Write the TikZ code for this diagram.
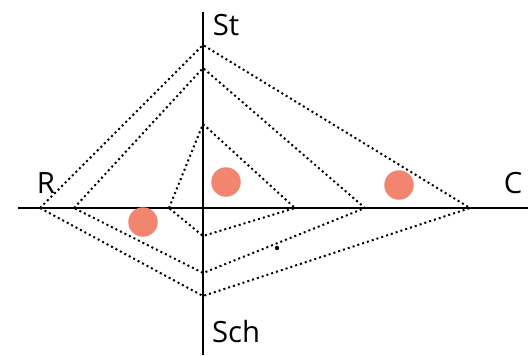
\documentclass[tikz,border=0pt]{standalone}
\usepackage{fontspec}
\setmainfont{Open Sans}
\usepackage{xcolor}
\definecolor{salmon}{RGB}{241,133,111}
\newlength{\pxu}
\setlength{\pxu}{0.03cm}
\tikzset{
  axis/.style={line width=2pt},
  dotline/.style={line width=1.7pt, dash pattern=on 1.7pt off 2.6pt},
  blob/.style={circle, fill=salmon, inner sep=0pt, minimum size=29.5\pxu},
  lbl/.style={font=\fontsize{25}{30}\selectfont, inner sep=0pt}
}
\begin{document}
\begin{tikzpicture}[x=0.03cm, y=-0.03cm]
            \useasboundingbox (0,0) rectangle (528,355);
            % --- Axes ---
            \coordinate (west) at (18,208);
            \coordinate (east) at (528,208);
            \coordinate (north) at (203,12);
            \coordinate (south) at (203,355);
            \draw[axis] (west) -- (east);
            \draw[axis] (north) -- (south);
            \node[lbl] (st) at (226,25) {St};
            \node[lbl] (r) at (46,183) {R};
            \node[lbl] (c) at (513,183) {C};
            \node[lbl] (sch) at (236,332) {Sch};

            % --- Corner points ---
            \coordinate (r1) at (40,208);
            \coordinate (r2) at (74,208);
            \coordinate (r3) at (169,208);
            \coordinate (c1) at (470,208);
            \coordinate (c2) at (365,208);
            \coordinate (c3) at (295,208);
            \coordinate (st1) at (203,45);
            \coordinate (st2) at (203,68);
            \coordinate (st3) at (203,124);
            \coordinate (sch1) at (203,296);
            \coordinate (sch2) at (203,273);
            \coordinate (sch3) at (203,236);

            % --- Dotted diamonds ---
            \draw[dotline] (r1) -- (st1) -- (c1) -- (sch1) -- cycle;
            \draw[dotline] (r2) -- (st2) -- (c2) -- (sch2) -- cycle;
            \draw[dotline] (r3) -- (st3) -- (c3) -- (sch3) -- cycle;

            % small dot on middle line
            \fill (277,248) circle (2.2);

            % --- Circles ---
            \node[blob] (p1) at (226,182) {};
            \node[blob] (p2) at (399,185) {};
            \node[blob] (p3) at (143,222) {};
        \end{tikzpicture}
\end{document}
